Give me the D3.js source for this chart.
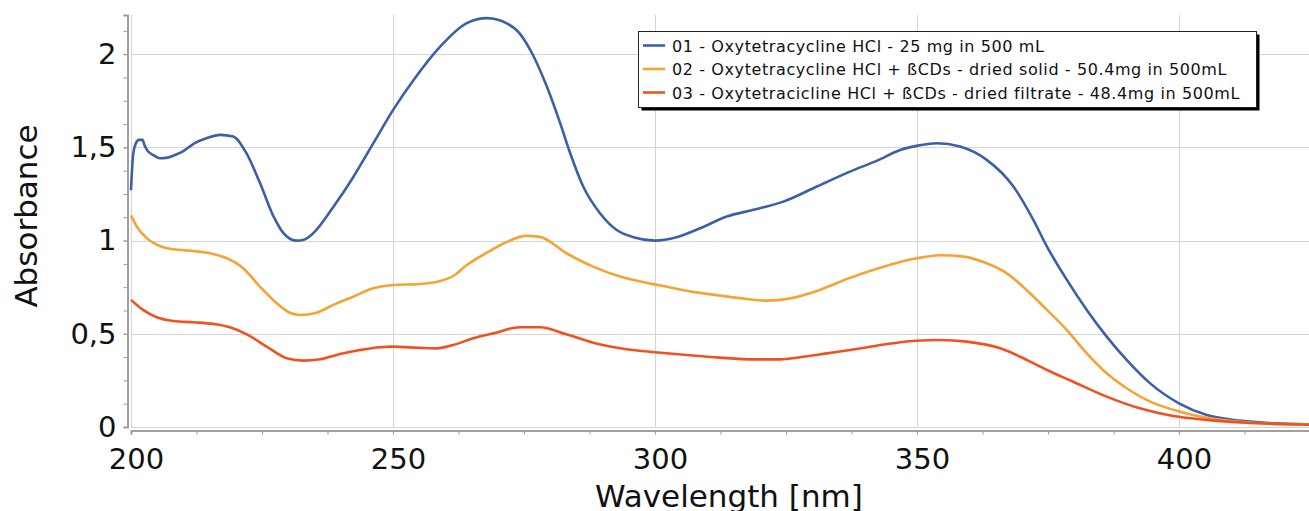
<!DOCTYPE html>
<html>
<head>
<meta charset="utf-8">
<script src="https://cdn.jsdelivr.net/npm/d3@7"></script>
<style>
    body { margin: 0; background: #fff; }
    svg { display: block; font-family: "DejaVu Sans", Verdana, sans-serif; }
</style>
</head>
<body>
<svg id="chart" width="1309" height="511"></svg>
<script>
// values (wavelength nm, absorbance)
var wl01 = [200.0, 200.4, 200.9, 201.5, 202.2, 202.6, 203.2, 204.2, 205.5, 207, 208.5, 210, 212, 214.5, 217, 219.5, 222, 224.6, 227.2, 229.1, 231.5, 233, 234.8, 238.6, 242.4, 246.2, 250, 253.9, 259, 264, 268, 270.5, 274.2, 276.8, 279.3, 281.9, 283.8, 286.3, 289.5, 292.7, 295.9, 300, 304.1, 308.6, 313.7, 318.8, 324.5, 330.9, 337.2, 342.5, 346.8, 349.9, 353.8, 358.2, 363.3, 368.4, 372.2, 374.8, 378.6, 382.4, 386.2, 390, 394.5, 400, 405.3, 411.6, 418, 425];
var abs01 = [1.27, 1.46, 1.52, 1.54, 1.54, 1.51, 1.48, 1.46, 1.442, 1.445, 1.46, 1.48, 1.52, 1.55, 1.567, 1.558, 1.47, 1.31, 1.13, 1.04, 1.0, 1.005, 1.04, 1.18, 1.34, 1.52, 1.70, 1.86, 2.04, 2.165, 2.193, 2.18, 2.11, 1.99, 1.83, 1.63, 1.47, 1.29, 1.147, 1.057, 1.018, 1.0, 1.018, 1.066, 1.129, 1.165, 1.209, 1.29, 1.37, 1.43, 1.486, 1.508, 1.522, 1.504, 1.433, 1.29, 1.111, 0.968, 0.789, 0.628, 0.485, 0.36, 0.234, 0.127, 0.064, 0.034, 0.02, 0.015];

var wl02 = [200, 201.1, 203, 205.5, 208.1, 211.9, 215.1, 218.3, 221.4, 224.6, 227.8, 230.3, 232.3, 235.4, 238.6, 242.4, 246.2, 250, 255.2, 259, 261.5, 264.1, 267.9, 271.5, 275.5, 278, 283.1, 288.2, 293.3, 300, 306, 312.4, 317.5, 321.3, 325.8, 330.9, 337.2, 342.5, 346.8, 350, 354.4, 358.9, 363.3, 367.1, 370.9, 374.8, 378.6, 382.4, 386.2, 390, 394.5, 400.2, 405.3, 411.6, 418, 425];
var abs02 = [1.135, 1.075, 1.013, 0.971, 0.953, 0.944, 0.932, 0.905, 0.852, 0.753, 0.664, 0.613, 0.601, 0.613, 0.655, 0.699, 0.744, 0.762, 0.767, 0.783, 0.81, 0.869, 0.935, 0.99, 1.025, 1.02, 0.932, 0.86, 0.807, 0.765, 0.731, 0.705, 0.687, 0.678, 0.69, 0.73, 0.80, 0.85, 0.885, 0.905, 0.921, 0.914, 0.878, 0.825, 0.735, 0.628, 0.52, 0.395, 0.288, 0.208, 0.136, 0.082, 0.05, 0.028, 0.017, 0.013];

var wl03 = [200, 202.3, 204.9, 208.1, 211.9, 215.7, 218.9, 222.1, 225.9, 229.7, 232.9, 236.1, 239.9, 243.7, 247.5, 250, 253.9, 258.3, 261.5, 265.3, 269.2, 274.2, 278, 283.1, 288.2, 294.6, 300, 306, 312.4, 318.8, 323.8, 327.7, 332.8, 337.2, 342.5, 346.8, 349.9, 354.4, 359.5, 365.9, 369.7, 374.8, 379.8, 386.2, 392.5, 398.9, 405.3, 412.9, 419.3, 425];
var abs03 = [0.682, 0.628, 0.589, 0.569, 0.562, 0.553, 0.535, 0.497, 0.431, 0.369, 0.356, 0.363, 0.392, 0.413, 0.428, 0.431, 0.426, 0.422, 0.44, 0.476, 0.503, 0.535, 0.535, 0.497, 0.452, 0.417, 0.401, 0.386, 0.372, 0.363, 0.363, 0.374, 0.395, 0.413, 0.437, 0.455, 0.463, 0.467, 0.458, 0.422, 0.377, 0.306, 0.243, 0.163, 0.1, 0.059, 0.038, 0.023, 0.016, 0.012];

var seriesNames = [
    "01 - Oxytetracycline HCl - 25 mg in 500 mL",
    "02 - Oxytetracycline HCl + ßCDs - dried solid - 50.4mg in 500mL",
    "03 - Oxytetracicline HCl + ßCDs - dried filtrate - 48.4mg in 500mL"
];
var seriesColors = ["#3e5fa6", "#f7a235", "#f2501e"];

var xTicks = [200, 250, 300, 350, 400];
var yTicks = [0, 0.5, 1, 1.5, 2];
var xTitle = "Wavelength [nm]";
var yTitle = "Absorbance";

var series = [
    {name: seriesNames[0], color: seriesColors[0], points: d3.zip(wl01, abs01)},
    {name: seriesNames[1], color: seriesColors[1], points: d3.zip(wl02, abs02)},
    {name: seriesNames[2], color: seriesColors[2], points: d3.zip(wl03, abs03)}
];

var svg = d3.select('#chart');

var x = d3.scaleLinear().domain([200, 425]).range([131, 1310]);
var y = d3.scaleLinear().domain([0, 2.21]).range([427, 15]);

// grid
var grid = svg.append('g').attr('stroke', '#d4d4d4').attr('stroke-width', 1);
grid.selectAll('line.h').data(yTicks).enter().append('line')
    .attr('x1', x(200)).attr('x2', 1309)
    .attr('y1', function(d) { return Math.round(y(d)) + 0.5; })
    .attr('y2', function(d) { return Math.round(y(d)) + 0.5; });
grid.selectAll('line.v').data(xTicks).enter().append('line')
    .attr('y1', y(2.21)).attr('y2', y(0))
    .attr('x1', function(d) { return Math.round(x(d)) + 0.5; })
    .attr('x2', function(d) { return Math.round(x(d)) + 0.5; });

// axes (offset a few px from the plot box like the original)
var xMinor = d3.range(200, 426, 12.5);
var yMinor = d3.range(0, 2.21, 0.125);

var xAxis = svg.append('g').attr('transform', 'translate(0,430.5)')
    .call(d3.axisBottom(x).tickValues(xMinor).tickSize(4).tickFormat(''));
xAxis.append('g').call(d3.axisBottom(x).tickValues(xTicks).tickSize(4).tickPadding(14).tickFormat(d3.format('d')));

var yAxis = svg.append('g').attr('transform', 'translate(127.5,0)')
    .call(d3.axisLeft(y).tickValues(yMinor).tickSize(4).tickFormat(''));
yAxis.append('g').call(d3.axisLeft(y).tickValues(yTicks).tickSize(4).tickPadding(7)
    .tickFormat(function(d) { return String(d).replace('.', ','); }));

svg.selectAll('.domain').attr('stroke', '#9a9a9a').attr('stroke-width', 1.5);
svg.selectAll('.tick line').attr('stroke', '#9a9a9a');
svg.selectAll('.tick text').attr('font-size', 29).attr('fill', '#111')
    .attr('font-family', '"DejaVu Sans", Verdana, sans-serif');
xAxis.selectAll('.tick text').attr('dx', 5);

// lines
var line = d3.line()
    .x(function(d) { return x(d[0]); })
    .y(function(d) { return y(d[1]); })
    .curve(d3.curveMonotoneX);

svg.append('g').selectAll('path').data(series).enter().append('path')
    .attr('d', function(d) { return line(d.points); })
    .attr('fill', 'none')
    .attr('stroke', function(d) { return d.color; })
    .attr('stroke-width', 2.6)
    .attr('stroke-linejoin', 'round');

// titles
svg.append('text').attr('x', 729).attr('y', 507).attr('text-anchor', 'middle')
    .attr('font-size', 31).attr('fill', '#111').text(xTitle);
svg.append('text').attr('transform', 'translate(37,216) rotate(-90)').attr('text-anchor', 'middle')
    .attr('font-size', 31).attr('fill', '#111').text(yTitle);

// legend with drop shadow
var legend = svg.append('g');
legend.append('rect').attr('x', 641.5).attr('y', 34.5).attr('width', 618).attr('height', 76).attr('fill', '#000');
legend.append('rect').attr('x', 638.5).attr('y', 31.5).attr('width', 618).attr('height', 76)
    .attr('fill', '#fff').attr('stroke', '#222').attr('stroke-width', 1);

var item = legend.selectAll('g.item').data(series).enter().append('g')
    .attr('transform', function(d, i) { return 'translate(0,' + (45.5 + i * 23.5) + ')'; });
item.append('line').attr('x1', 643).attr('x2', 665).attr('y1', 0).attr('y2', 0)
    .attr('stroke', function(d) { return d.color; }).attr('stroke-width', 2.6);
item.append('text').attr('x', 672).attr('y', 6).attr('font-size', 16).attr('letter-spacing', 0.6).attr('fill', '#111')
    .text(function(d) { return d.name; });
</script>
</body>
</html>
